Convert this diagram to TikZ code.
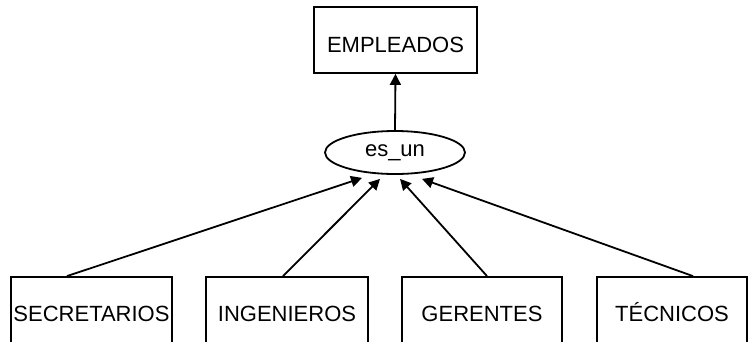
\documentclass[tikz,border=0pt]{standalone}
\usepackage{fontspec}
\setmainfont{Liberation Sans}
\usetikzlibrary{arrows.meta,shapes.geometric}

\begin{document}
\begin{tikzpicture}[x=1pt,y=-1pt,
  ent/.style={draw,line width=1.8pt,rectangle,inner sep=0pt,font=\fontsize{22}{26}\selectfont},
  sub/.style={ent,minimum height=72pt,text height=16pt,text depth=0pt},
  rel/.style={draw,line width=1.8pt,ellipse,inner sep=0pt,minimum width=140pt,minimum height=43pt,font=\fontsize{22}{26}\selectfont},
  isa/.style={draw,line width=1.8pt,-{Triangle[length=11pt,width=11pt]}}]
\useasboundingbox (0,0) rectangle (748,341);
\clip (0,0) rectangle (748,341);

\node[ent,minimum width=163pt,minimum height=66pt,text height=26pt] (emp) at (395.5,40) {EMPLEADOS};
\node[rel] (es) at (395,152.5) {es\_un};
\path[isa] (es.north) -- (emp.south);

\node[sub,minimum width=161pt] (sec) at (91.5,313) {SECRETARIOS};
\node[sub,minimum width=162pt] (ing) at (287,313) {INGENIEROS};
\node[sub,minimum width=160pt] (ger) at (482,313) {GERENTES};
\node[sub,minimum width=150pt] (tec) at (672,313) {TÉCNICOS};

\path[isa] ([xshift=-24.5pt]sec.north) -- ([xshift=-33pt,yshift=-3pt]es.south);
\path[isa] ([xshift=-4pt]ing.north) -- ([xshift=-15pt,yshift=-4pt]es.south);
\path[isa] ([xshift=5pt]ger.north) -- ([xshift=5pt,yshift=-4pt]es.south);
\path[isa] ([xshift=21pt]tec.north) -- ([xshift=27pt,yshift=-4pt]es.south);
\end{tikzpicture}
\end{document}
